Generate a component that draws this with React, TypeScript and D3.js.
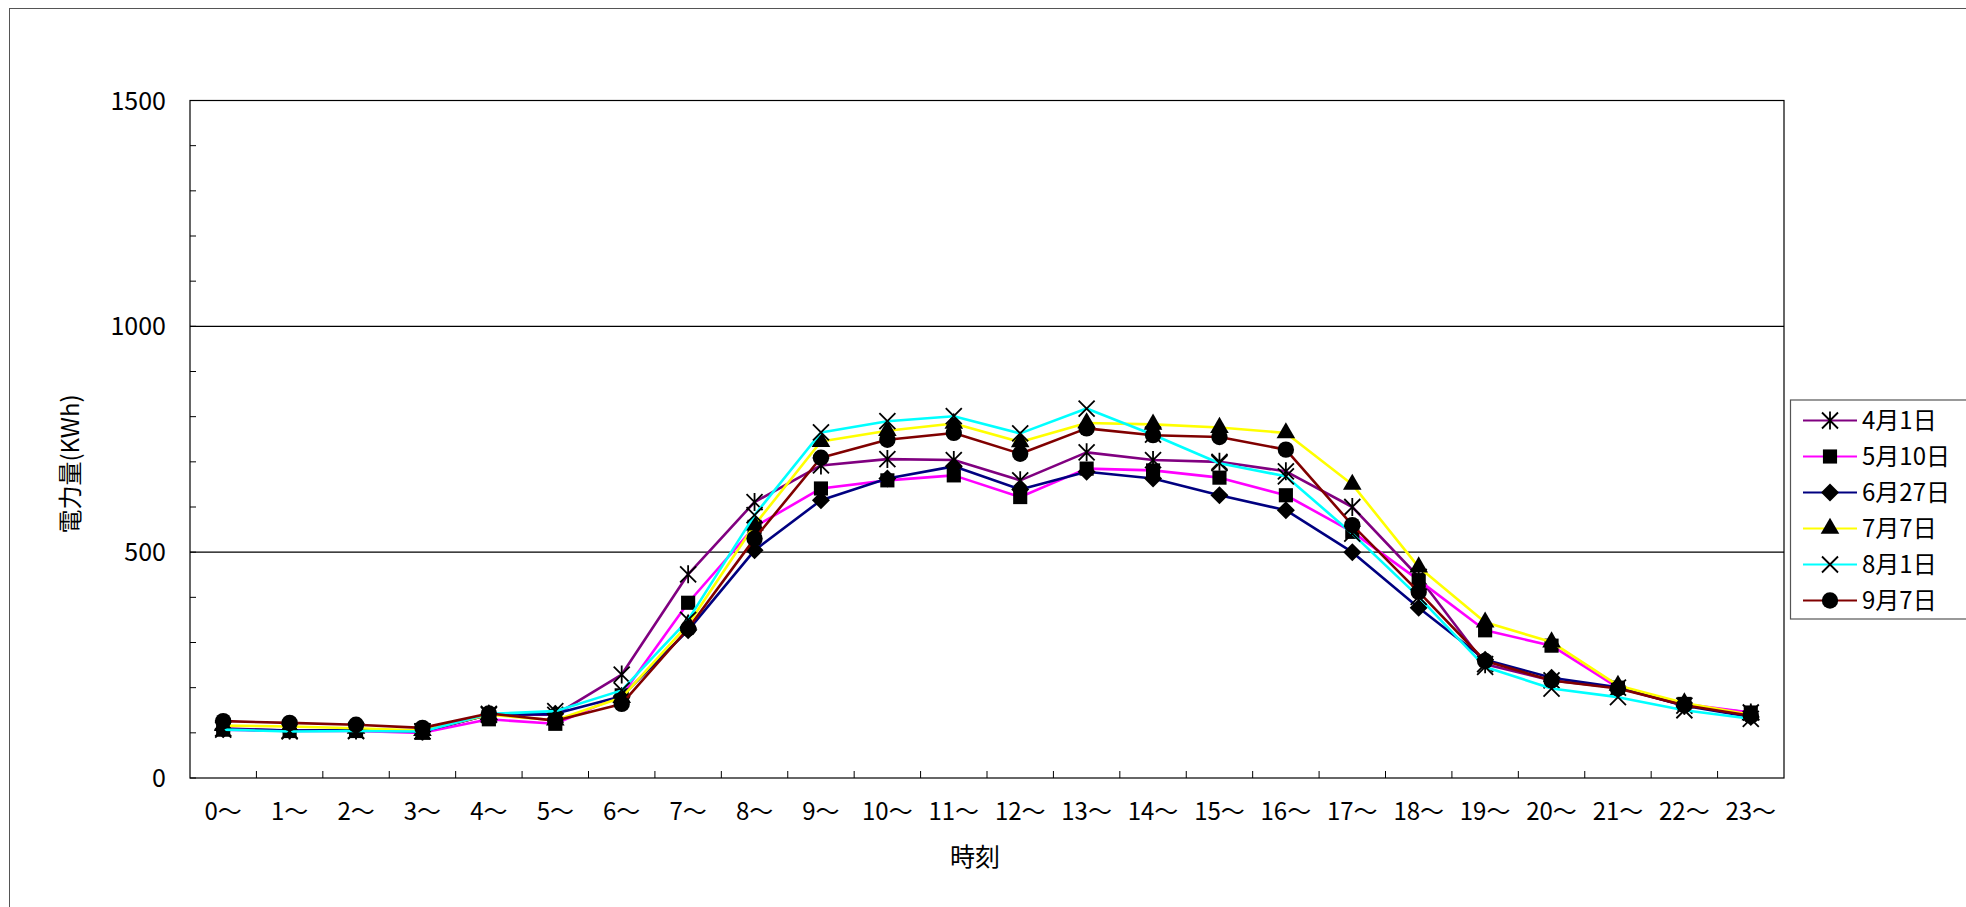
import React from 'react';
import * as d3 from 'd3';

const hours = ['0～', '1～', '2～', '3～', '4～', '5～', '6～', '7～', '8～', '9～', '10～', '11～',
  '12～', '13～', '14～', '15～', '16～', '17～', '18～', '19～', '20～', '21～', '22～', '23～'];

const seriesNames = ['4月1日', '5月10日', '6月27日', '7月7日', '8月1日', '9月7日'];
const seriesColors = ['#800080', '#FF00FF', '#000080', '#FFFF00', '#00FFFF', '#800000'];
const seriesMarkers = ['star', 'square', 'diamond', 'triangle', 'x', 'circle'];

const apr1 = [110, 105, 105, 103, 140, 140, 229, 451, 611, 692, 706, 704, 659, 721, 704, 700, 679, 600, 445, 252, 216, 200, 160, 145];
const may10 = [107, 104, 104, 100, 130, 120, 183, 388, 556, 641, 659, 670, 622, 685, 681, 665, 626, 545, 438, 327, 293, 200, 164, 145];
const jun27 = [108, 105, 106, 103, 140, 142, 181, 327, 504, 615, 663, 690, 639, 678, 663, 626, 593, 500, 377, 262, 222, 201, 160, 135];
const jul7 = [116, 114, 110, 105, 140, 128, 178, 340, 560, 745, 769, 785, 744, 786, 783, 776, 764, 650, 467, 345, 301, 205, 166, 140];
const aug1 = [107, 103, 104, 103, 142, 148, 194, 350, 582, 765, 790, 801, 763, 818, 760, 697, 668, 541, 401, 246, 198, 179, 150, 131];
const sep7 = [126, 122, 118, 111, 143, 127, 164, 331, 530, 709, 749, 764, 718, 774, 759, 755, 727, 560, 412, 259, 216, 198, 161, 138];

const seriesValues = [apr1, may10, jun27, jul7, aug1, sep7];

const yTicks = [0, 500, 1000, 1500];

const FONT = '"Noto Sans CJK JP", "Noto Sans", sans-serif';

function Marker({ type, x, y }: { type: string, x: number, y: number }) {
  const t = `translate(${x},${y})`;
  if (type === 'star' || type === 'x') {
    const r = 8;
    let d = `M${-r},${-r}L${r},${r}M${-r},${r}L${r},${-r}`;
    if (type === 'star') d += `M0,${-r - 1}L0,${r + 1}`;
    return <path transform={t} d={d} stroke="#000" strokeWidth={1.8} fill="none" />;
  }
  if (type === 'diamond') {
    const r = 9;
    return <path transform={t} d={`M0,${-r}L${r},0L0,${r}L${-r},0Z`} fill="#000" />;
  }
  const sym = type === 'square' ? d3.symbolSquare
    : type === 'triangle' ? d3.symbolTriangle
      : d3.symbolCircle;
  const size = type === 'square' ? 200 : type === 'triangle' ? 150 : 210;
  const d = d3.symbol().type(sym).size(size)()!;
  return <path transform={t} d={d} fill="#000" />;
}

export default function App() {
  const margin = { left: 190, right: 1784, top: 100.5, bottom: 778 };

  const x = d3.scaleBand()
    .domain(hours)
    .range([margin.left, margin.right]);

  const y = d3.scaleLinear()
    .domain([0, 1500])
    .range([margin.bottom, margin.top]);

  const cx = (h: string) => x(h)! + x.bandwidth() / 2;

  const line = d3.line<number>()
    .x((_, i) => cx(hours[i]))
    .y(v => y(v));

  const minorTicks = d3.range(0, 1501, 100);

  return (
    <svg width={1966} height={907} style={{ position: 'absolute', left: 0, top: 0, background: '#fff' }}
      fontFamily={FONT}>
      {/* chart area border */}
      <rect x={9.5} y={8.5} width={2000} height={1000} fill="#fff" stroke="#555" strokeWidth={1} />

      {/* plot area */}
      <rect x={margin.left} y={margin.top} width={margin.right - margin.left} height={margin.bottom - margin.top}
        fill="#fff" stroke="#000" strokeWidth={1.2} />

      {yTicks.filter(v => v > 0 && v < 1500).map(v => (
        <line key={`g-${v}`} x1={margin.left} x2={margin.right} y1={y(v)} y2={y(v)} stroke="#000" strokeWidth={1.2} />
      ))}

      {minorTicks.map(v => (
        <line key={`mt-${v}`} x1={margin.left} x2={margin.left + 6} y1={y(v)} y2={y(v)} stroke="#000" strokeWidth={1} />
      ))}

      {hours.slice(1).map(h => (
        <line key={`xt-${h}`} x1={x(h)} x2={x(h)} y1={margin.bottom} y2={margin.bottom - 7} stroke="#000" strokeWidth={1} />
      ))}

      {/* y tick labels */}
      {yTicks.map(v => (
        <text key={`yl-${v}`} x={166} y={y(v)} dy="0.36em" textAnchor="end" fontSize={25} fill="#000">{v}</text>
      ))}

      {/* x tick labels */}
      {hours.map(h => (
        <text key={`xl-${h}`} x={cx(h)} y={820} textAnchor="middle" fontSize={24} fill="#000">{h}</text>
      ))}

      <text x={975} y={866} textAnchor="middle" fontSize={25} fill="#000">時刻</text>
      <text transform="translate(71,464) rotate(-90)" dy="0.35em" textAnchor="middle" fontSize={24} fill="#000">電力量(KWh)</text>

      {/* series */}
      {seriesValues.map((vals, si) => (
        <g key={`s-${si}`}>
          <path d={line(vals)!} fill="none" stroke={seriesColors[si]} strokeWidth={2.6} strokeLinejoin="round" />
          {vals.map((v, i) => (
            <Marker key={`m-${si}-${i}`} type={seriesMarkers[si]} x={cx(hours[i])} y={y(v)} />
          ))}
        </g>
      ))}

      {/* legend */}
      <rect x={1790.5} y={400} width={300} height={219} fill="#fff" stroke="#555" strokeWidth={1.2} />
      {seriesNames.map((name, i) => {
        const ly = 420.5 + i * 36;
        return (
          <g key={`lg-${i}`}>
            <line x1={1803} x2={1857} y1={ly} y2={ly} stroke={seriesColors[i]} strokeWidth={2.2} />
            <Marker type={seriesMarkers[i]} x={1830} y={ly} />
            <text x={1862} y={ly} dy="0.36em" fontSize={24} fill="#000">{name}</text>
          </g>
        );
      })}
    </svg>
  );
}
